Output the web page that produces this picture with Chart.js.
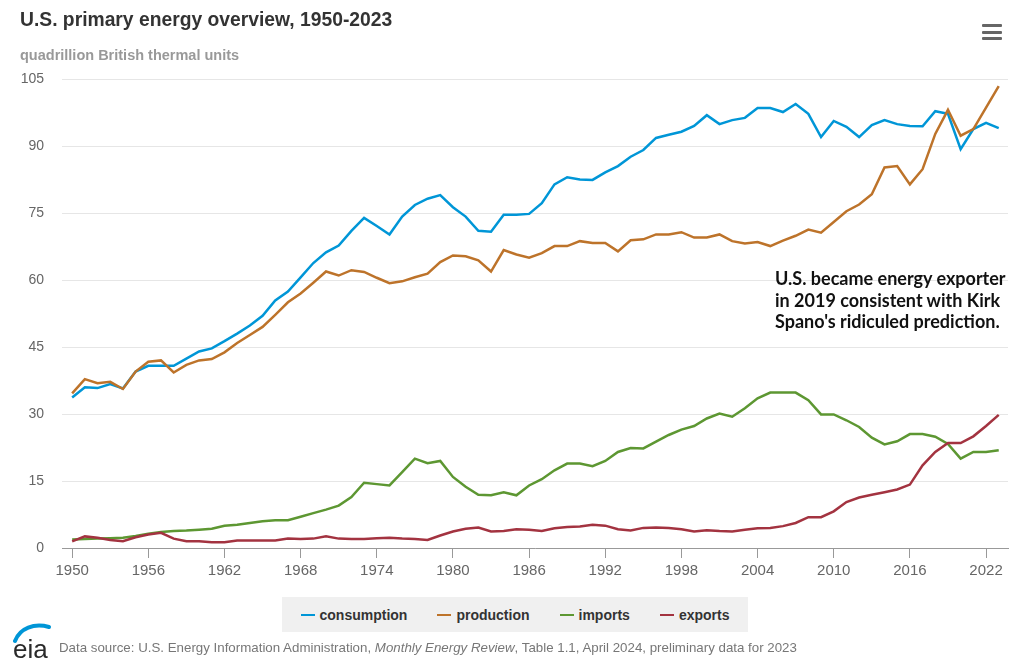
<!DOCTYPE html>
<html>
<head>
<meta charset="utf-8">
<script src="https://cdn.jsdelivr.net/npm/chart.js@4.4.1/dist/chart.umd.min.js"></script>
<style>
  html, body { margin: 0; padding: 0; background: #fff; }
  #wrap { position: relative; width: 1024px; height: 670px; overflow: hidden; font-family: "Liberation Sans", Arial, sans-serif; }
  #chart { position: absolute; left: 0; top: 0; }
  #title { position: absolute; left: 20px; top: 9px; font-size: 19.3px; font-weight: bold; color: #333; white-space: nowrap; }
  #subtitle { position: absolute; left: 20px; top: 47px; font-size: 14.5px; font-weight: bold; color: #999; white-space: nowrap; }
  #menu { position: absolute; left: 982px; top: 24px; width: 20px; }
  #menu div { height: 3px; background: #666; border-radius: 1px; margin-bottom: 3.5px; }
  #note { position: absolute; left: 775px; top: 268px; font-family: Lato, "Open Sans", sans-serif; font-weight: bold; font-size: 18px; line-height: 21.5px; color: #111; white-space: nowrap; }
  #legend { position: absolute; left: 282px; top: 597px; width: 466px; height: 35px; background: #f0f0f0; display: flex; align-items: center; justify-content: center; gap: 30px; }
  .item { display: flex; align-items: center; font-size: 14px; font-weight: bold; color: #333; }
  .item span.sw { display: inline-block; width: 14px; height: 2px; margin-right: 5px; }
  #logo { position: absolute; left: 12px; top: 623px; }
  #source { position: absolute; left: 59px; top: 640px; font-size: 13px; color: #777; white-space: nowrap; transform-origin: left top; }
</style>
</head>
<body>
<div id="wrap">
  <canvas id="chart" width="1024" height="670"></canvas>
  <div id="title">U.S. primary energy overview, 1950-2023</div>
  <div id="subtitle">quadrillion British thermal units</div>
  <div id="menu"><div></div><div></div><div></div></div>
  <div id="note">U.S. became energy exporter<br>in 2019 consistent with Kirk<br>Spano's ridiculed prediction.</div>
  <div id="legend"></div>
  <svg id="logo" width="44" height="40" viewBox="0 0 44 40">
    <path d="M3 18 C 8 5, 22 0, 37 4" stroke="#0096d7" stroke-width="4" fill="none" stroke-linecap="round"/>
    <text x="1" y="35" font-family="Liberation Sans, Arial, sans-serif" font-size="26" fill="#2a2a2a">eia</text>
  </svg>
  <div id="source">Data source: U.S. Energy Information Administration, <i>Monthly Energy Review</i>, Table 1.1, April 2024, preliminary data for 2023</div>
</div>
<script>
// years 1950-2023
const years = [];
for (let y = 1950; y <= 2023; y++) years.push(y);

const xTickYears = [1950, 1956, 1962, 1968, 1974, 1980, 1986, 1992, 1998, 2004, 2010, 2016, 2022];
const yTickValues = [0, 15, 30, 45, 60, 75, 90, 105];

const seriesNames = ['consumption', 'production', 'imports', 'exports'];
const seriesColors = ['#0096d7', '#bd732a', '#5d9732', '#a33340'];

const consumption = [
  33.7, 36.0, 35.8, 36.7, 35.7, 39.5, 40.8, 40.8, 40.8, 42.4,
  44.0, 44.7, 46.3, 48.0, 49.8, 52.0, 55.4, 57.4, 60.6, 63.8,
  66.2, 67.7, 71.0, 73.9, 72.1, 70.2, 74.2, 76.8, 78.2, 79.0,
  76.3, 74.2, 71.0, 70.8, 74.6, 74.6, 74.8, 77.2, 81.4, 83.0,
  82.5, 82.4, 84.1, 85.5, 87.6, 89.1, 91.8, 92.5, 93.2, 94.5,
  96.9, 94.9, 95.8, 96.3, 98.5, 98.5, 97.6, 99.4, 97.2, 92.0,
  95.6, 94.3, 92.0, 94.7, 95.8, 94.9, 94.5, 94.4, 97.8, 97.2,
  89.3, 93.8, 95.2, 94.0
];
const production = [
  34.6, 37.8, 36.9, 37.2, 35.6, 39.5, 41.7, 42.0, 39.3, 41.0,
  42.0, 42.3, 43.8, 45.9, 47.7, 49.5, 52.2, 55.0, 57.0, 59.4,
  61.9, 61.0, 62.2, 61.8, 60.5, 59.3, 59.7, 60.6, 61.4, 64.0,
  65.5, 65.3, 64.4, 61.9, 66.7, 65.7, 65.0, 66.0, 67.6, 67.6,
  68.7, 68.3, 68.3, 66.4, 68.9, 69.1, 70.2, 70.2, 70.7, 69.5,
  69.5, 70.2, 68.7, 68.2, 68.5, 67.6, 68.8, 69.9, 71.3, 70.6,
  73.0, 75.4, 76.9, 79.2, 85.2, 85.5, 81.4, 84.8, 92.7, 98.1,
  92.3, 93.8, 98.6, 103.4
];
const imports = [
  1.9, 2.0, 2.1, 2.2, 2.3, 2.7, 3.2, 3.6, 3.8, 3.9,
  4.1, 4.3, 5.0, 5.2, 5.6, 6.0, 6.2, 6.2, 7.0, 7.8,
  8.6, 9.5, 11.4, 14.6, 14.3, 14.0, 17.0, 20.0, 19.0, 19.5,
  15.9, 13.7, 11.9, 11.8, 12.5, 11.8, 14.0, 15.4, 17.4, 18.9,
  18.9, 18.3, 19.5, 21.5, 22.4, 22.3, 23.8, 25.3, 26.5, 27.3,
  29.0, 30.1, 29.4, 31.3, 33.5, 34.8, 34.8, 34.8, 33.1, 29.9,
  29.9, 28.6, 27.1, 24.7, 23.2, 23.9, 25.5, 25.5, 24.9, 23.3,
  20.0, 21.5, 21.5, 21.9
];
const exports = [
  1.5, 2.6, 2.3, 1.8, 1.5, 2.4, 3.0, 3.4, 2.1, 1.5,
  1.5, 1.3, 1.3, 1.7, 1.7, 1.7, 1.7, 2.1, 2.0, 2.1,
  2.6, 2.1, 2.0, 2.0, 2.2, 2.3, 2.1, 2.0, 1.8, 2.8,
  3.7, 4.3, 4.6, 3.7, 3.8, 4.2, 4.1, 3.8, 4.4, 4.7,
  4.8, 5.2, 5.0, 4.2, 3.9, 4.5, 4.6, 4.5, 4.2, 3.7,
  4.0, 3.8, 3.7, 4.1, 4.4, 4.5, 4.9, 5.6, 6.9, 6.9,
  8.2, 10.3, 11.3, 11.9, 12.5, 13.1, 14.2, 18.5, 21.5, 23.5,
  23.5, 25.0, 27.3, 29.8
];

const seriesValues = [consumption, production, imports, exports];

// html legend
const legendEl = document.getElementById('legend');
seriesNames.forEach(function (name, i) {
  const it = document.createElement('div');
  it.className = 'item';
  it.innerHTML = '<span class="sw" style="background:' + seriesColors[i] + '"></span>' + name;
  legendEl.appendChild(it);
});

// squeeze the source line to the narrow look of the original
const src = document.getElementById('source');
src.style.transform = 'scaleX(' + (738 / src.offsetWidth) + ')';

new Chart(document.getElementById('chart'), {
  type: 'line',
  data: {
    datasets: seriesNames.map(function (name, i) {
      return {
        label: name,
        data: years.map(function (yr, k) { return { x: yr, y: seriesValues[i][k] }; }),
        borderColor: seriesColors[i],
        backgroundColor: seriesColors[i],
        borderWidth: 2.5,
        pointRadius: 0,
        tension: 0,
        order: 4 - i
      };
    })
  },
  options: {
    responsive: false,
    animation: false,
    devicePixelRatio: 1,
    layout: { padding: { top: 79, right: 16, bottom: 82, left: 0 } },
    plugins: {
      legend: { display: false },
      tooltip: { enabled: false }
    },
    scales: {
      x: {
        type: 'linear',
        min: 1949.2,
        max: 2023.73,
        afterBuildTicks: function (scale) {
          scale.ticks = xTickYears.map(function (v) { return { value: v }; });
        },
        afterFit: function (scale) { scale.height = 40; },
        ticks: {
          color: '#666',
          font: { family: 'Liberation Sans', size: 15 },
          padding: 4,
          maxRotation: 0,
          callback: function (v) { return String(v); }
        },
        grid: {
          drawOnChartArea: false,
          drawTicks: true,
          tickLength: 10,
          color: '#999'
        },
        border: { display: true, color: '#999', width: 1 }
      },
      y: {
        min: 0,
        max: 105,
        afterBuildTicks: function (scale) {
          scale.ticks = yTickValues.map(function (v) { return { value: v }; });
        },
        afterFit: function (scale) { scale.width = 62; },
        ticks: {
          color: '#666',
          font: { family: 'Liberation Sans', size: 14 },
          padding: 18
        },
        grid: { color: '#e6e6e6', drawTicks: false },
        border: { display: false }
      }
    }
  }
});
</script>
</body>
</html>
